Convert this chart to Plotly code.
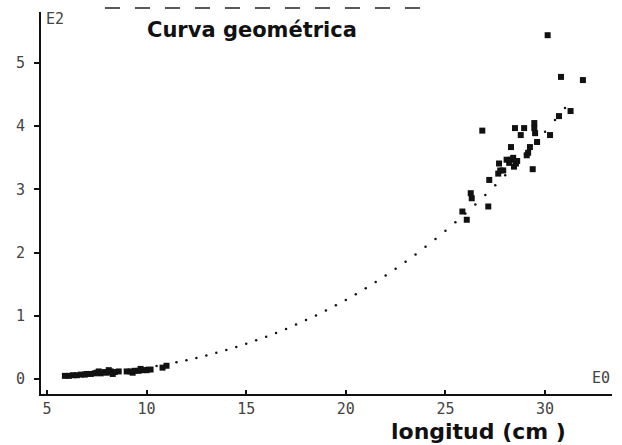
import plotly.graph_objects as go

# Observed data: small fish cluster (left) and large fish cluster (right)
obs_x_small = [5.9, 6.1, 6.3, 6.5, 6.7, 6.9, 7.0, 7.2, 7.4, 7.5, 7.7, 7.9, 8.0, 8.2, 8.4, 8.6,
               9.0, 9.2, 9.4, 9.6, 9.8, 10.0, 10.2, 10.8, 11.0, 7.6, 8.1, 8.3, 9.3, 9.7]
obs_y_small = [0.05, 0.05, 0.06, 0.06, 0.07, 0.07, 0.08, 0.08, 0.09, 0.10, 0.09, 0.11, 0.10, 0.12, 0.11, 0.12,
               0.12, 0.12, 0.13, 0.13, 0.14, 0.14, 0.15, 0.18, 0.21, 0.12, 0.14, 0.08, 0.10, 0.16]

obs_x_large = [30.13, 30.8, 31.9, 31.28, 30.7, 26.85, 28.49, 28.95, 29.46, 29.46, 29.5, 28.78, 30.25,
               29.6, 28.29, 29.24, 28.29, 28.54, 29.08, 27.69, 28.44, 28.07, 29.38, 27.65, 27.9,
               27.2, 26.27, 26.32, 27.15, 26.07, 25.85, 28.2, 28.4, 28.6, 29.15, 27.75]
obs_y_large = [5.44, 4.78, 4.73, 4.24, 4.16, 3.93, 3.97, 3.97, 4.05, 3.97, 3.89, 3.86, 3.86,
               3.75, 3.67, 3.67, 3.47, 3.41, 3.54, 3.41, 3.36, 3.47, 3.32, 3.25, 3.30,
               3.15, 2.94, 2.86, 2.73, 2.52, 2.65, 3.42, 3.50, 3.45, 3.58, 3.30]

# Fitted geometric curve, dots
curve_x = [6.0, 6.5, 7.0, 7.5, 8.0, 8.5, 9.0, 9.5, 10.0, 10.5, 11.0, 11.5, 12.0, 12.5, 13.0, 13.5,
           14.0, 14.5, 15.0, 15.5, 16.0, 16.5, 17.0, 17.5, 18.0, 18.5, 19.0, 19.5, 20.0, 20.5,
           21.0, 21.5, 22.0, 22.5, 23.0, 23.5, 24.0, 24.5, 25.0, 25.5, 26.0, 26.5, 27.0, 27.5,
           28.0, 28.5, 29.0, 29.5, 30.0, 30.5, 31.0]
curve_y = [0.043, 0.053, 0.066, 0.080, 0.095, 0.113, 0.133, 0.155, 0.179, 0.205, 0.233, 0.265, 0.298,
           0.334, 0.373, 0.415, 0.460, 0.507, 0.558, 0.612, 0.669, 0.730, 0.793, 0.861, 0.932,
           1.006, 1.084, 1.166, 1.252, 1.342, 1.436, 1.535, 1.637, 1.744, 1.855, 1.970, 2.091,
           2.215, 2.345, 2.479, 2.618, 2.761, 2.910, 3.065, 3.224, 3.388, 3.558, 3.733, 3.914,
           4.099, 4.290]

x_ticks = [5, 10, 15, 20, 25, 30]
y_ticks = [0, 1, 2, 3, 4, 5]

tick_font = dict(family="DejaVu Sans Mono", size=15, color="#444444")
title_font = dict(family="DejaVu Sans", size=21, color="#111111", weight="bold")
xlabel_font = dict(family="DejaVu Sans", size=22, color="#111111", weight="bold")

fig = go.Figure()
fig.add_trace(go.Scatter(x=curve_x, y=curve_y, mode="markers",
                         marker=dict(symbol="circle", size=2.5, color="#111111"),
                         hoverinfo="skip", showlegend=False))
fig.add_trace(go.Scatter(x=obs_x_small, y=obs_y_small, mode="markers",
                         marker=dict(symbol="square", size=6, color="#111111"),
                         showlegend=False))
fig.add_trace(go.Scatter(x=obs_x_large, y=obs_y_large, mode="markers",
                         marker=dict(symbol="square", size=6, color="#111111"),
                         showlegend=False))

fig.update_layout(
    width=622, height=445,
    margin=dict(l=41, r=10, t=12, b=51),
    paper_bgcolor="white", plot_bgcolor="white",
    xaxis=dict(range=[4.7, 33.36], tickvals=x_ticks, ticktext=[str(v) for v in x_ticks],
               showgrid=False, zeroline=False, showline=True, linecolor="#111111", linewidth=2,
               ticks="inside", ticklen=4, tickcolor="#111111", tickwidth=1.5,
               tickfont=tick_font),
    yaxis=dict(range=[-0.237, 5.807], tickvals=y_ticks, ticktext=[str(v) for v in y_ticks],
               showgrid=False, zeroline=False, showline=True, linecolor="#111111", linewidth=2,
               ticks="outside", ticklen=5, tickcolor="#111111", tickwidth=1.5,
               ticklabelstandoff=6, tickfont=tick_font),
    annotations=[
        dict(text="Curva geométrica", xref="paper", yref="paper", x=0.37, y=0.953,
             xanchor="center", yanchor="middle", showarrow=False, font=title_font),
        dict(text="longitud (cm )", xref="paper", yref="paper", x=0.767, y=-0.097,
             xanchor="center", yanchor="middle", showarrow=False, font=xlabel_font),
        dict(text="E2", xref="paper", yref="paper", x=0.006, y=0.982, xanchor="left",
             yanchor="middle", showarrow=False, font=tick_font),
        dict(text="E0", xref="paper", yref="paper", x=1.0, y=0.042, xanchor="right",
             yanchor="middle", showarrow=False, font=tick_font),
    ],
    shapes=[
        dict(type="line", xref="paper", yref="paper", x0=0.112, x1=0.664, y0=1.0105, y1=1.0105,
             line=dict(color="#222222", width=1.5, dash="longdash")),
    ],
)

fig.write_html("out.html")
